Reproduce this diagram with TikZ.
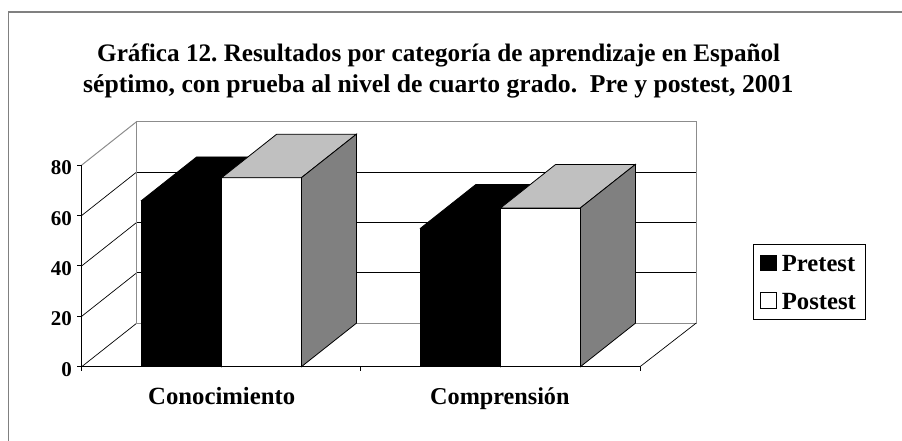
\documentclass[tikz,border=0pt]{standalone}
\usepackage{fontspec}
\setmainfont{Liberation Serif}
\usepackage{graphicx}
\frenchspacing
\newcommand\fitw[2]{\resizebox{#1}{!}{\bfseries\frenchspacing #2}}
\definecolor{framegray}{HTML}{808080}
\definecolor{wallgray}{HTML}{8C8C8C}
\definecolor{topgray}{HTML}{C0C0C0}
\definecolor{sidegray}{HTML}{808080}
% bar: x0, width, top y, front fill, top fill, side fill
\newcommand\drawbar[6]{%
  \filldraw[barline, fill=#4] (#1,366.7) rectangle ({#1+#2},#3);
  \filldraw[barline, fill=#5] (#1,#3) -- ({#1+#2},#3) -- ({#1+#2+55},{#3-43.5}) -- ({#1+55},{#3-43.5}) -- cycle;
  \filldraw[barline, fill=#6] ({#1+#2},366.7) -- ({#1+#2},#3) -- ({#1+#2+55},{#3-43.5}) -- ({#1+#2+55},323.2) -- cycle;
}
\begin{document}
\begin{tikzpicture}[x=1pt,y=-1pt,
  txt/.style={inner sep=0pt, anchor=base west},
  ylab/.style={inner sep=0pt, anchor=base east, font=\fontsize{21}{25}\selectfont\bfseries},
  grid/.style={black, line width=0.7pt},
  wall/.style={wallgray, line width=1pt},
  axis/.style={black, line width=1.3pt},
  barline/.style={black, line width=0.8pt}]
\useasboundingbox (0,0) rectangle (902,441);
\clip (0,0) rectangle (902,441);
% outer frame
\draw[framegray, line width=1.5pt] (8.7,12) rectangle (930,470);

% title
\node[txt] (t1) at (97,62) {\fitw{683pt}{Gráfica 12. Resultados por categoría de aprendizaje en Español}};
\node[txt] (t2) at (83,93) {\fitw{710pt}{séptimo, con prueba al nivel de cuarto grado. \ Pre y postest, 2001}};

% back wall grid lines
\foreach \yy in {272.8,222.4,172.0}
  \draw[grid] (136.7,\yy) -- (696,\yy);
% left wall diagonals
\foreach \yy in {366.7,316.3,265.9,215.5}
  \draw[grid] (81.7,\yy) -- (136.7,{\yy-43.5});
\draw[wall] (81.7,165.1) -- (136.7,121.6);
% back wall outline
\draw[wall] (136.7,323.2) -- (136.7,121.6) -- (696,121.6) -- (696,323.2) -- cycle;
% right floor edge
\draw[grid] (640,366.7) -- (696,323.2);

% axes
\draw[axis] (81.7,366.7) -- (81.7,165.1);
\foreach \yy in {366.7,316.3,265.9,215.5,165.1}
  \draw[black, line width=1pt] (77.3,\yy) -- (81.7,\yy);
\draw[black, line width=1.5pt] (81.7,366.7) -- (640,366.7);
\foreach \xx in {81.7,360.85,640}
  \draw[black, line width=1pt] (\xx,366.7) -- (\xx,370.5);

% bars
\drawbar{141.7}{80}{200.4}{black}{black}{black}
\drawbar{221.7}{79.7}{177.7}{white}{topgray}{sidegray}
\drawbar{420.7}{80}{228.1}{black}{black}{black}
\drawbar{500.7}{79.7}{207.9}{white}{topgray}{sidegray}

% y labels
\node[ylab] (y0) at (72,376.2) {0};
\node[ylab] (y20) at (72,325.8) {20};
\node[ylab] (y40) at (72,275.4) {40};
\node[ylab] (y60) at (72,225.0) {60};
\node[ylab] (y80) at (72,174.6) {80};

% category labels
\node[txt] (c1) at (148,404) {\fitw{147pt}{Conocimiento}};
\node[txt] (c2) at (430,404) {\fitw{139.3pt}{Comprensión}};

% legend
\draw[black, line width=0.9pt] (753.3,244) rectangle (865.7,319.3);
\filldraw[black, line width=0.8pt] (760.7,255) rectangle (776,270.7);
\filldraw[draw=black, fill=white, line width=0.8pt] (760.7,292.7) rectangle (776,308.3);
\node[txt] (l1) at (781.7,271.7) {\fitw{73.3pt}{Pretest}};
\node[txt] (l2) at (781.7,309) {\fitw{74pt}{Postest}};
\end{tikzpicture}
\end{document}
